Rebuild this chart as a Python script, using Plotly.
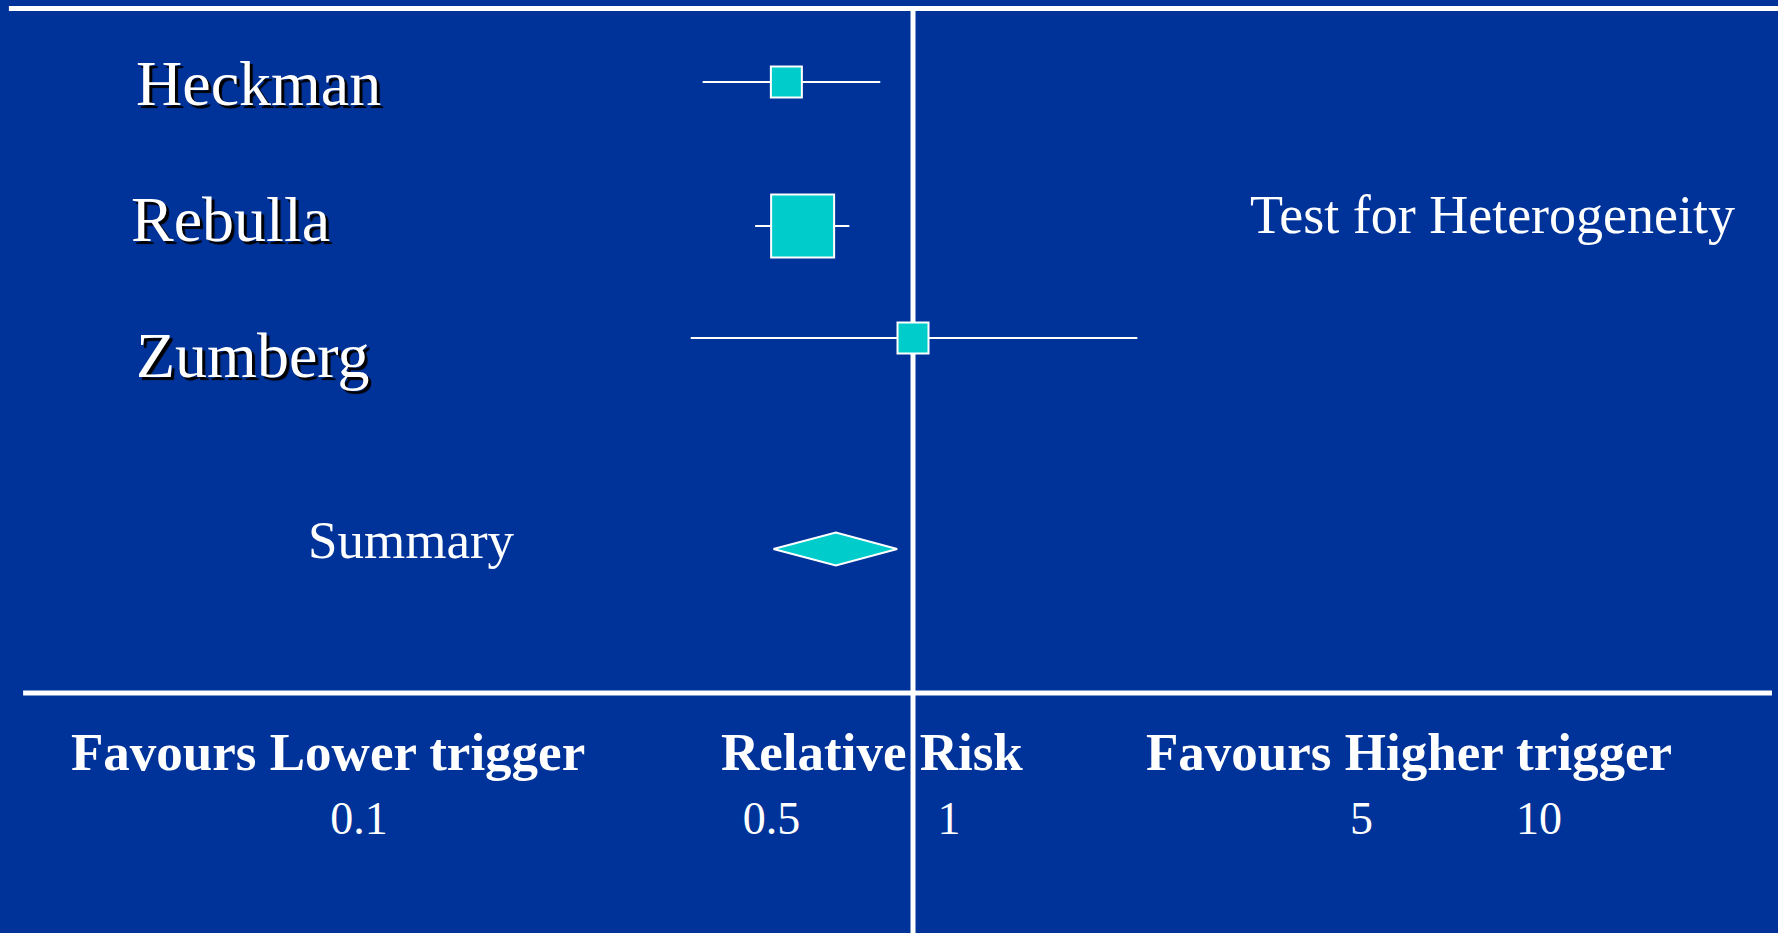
import plotly.graph_objects as go

# forest plot data (relative risk with 95% CI)
studies = ["Heckman", "Rebulla", "Zumberg"]
rr = [0.61, 0.65, 1.00]
ci_low = [0.44, 0.54, 0.42]
ci_high = [0.88, 0.78, 2.40]

summary_label = "Summary"
summary_rr = 0.74
summary_low = 0.58
summary_high = 0.94

tick_values = [0.1, 0.5, 1, 5, 10]
tick_labels = ["0.1", "0.5", "1", "5", "10"]

BG = "#003399"
CYAN = "#00CCCC"
FONT = "Liberation Serif, Times New Roman, serif"

# row layout (y axis runs top -> bottom)
row_pos = [0.82, 2.26, 3.38]
label_pos = [0.83, 2.19, 3.55]
label_x = [0.0755, 0.0725, 0.0755]
summary_pos = 5.49
diamond_half = 0.165

fig = go.Figure()

fig.add_trace(go.Scatter(
    x=rr,
    y=row_pos,
    mode="markers",
    marker=dict(symbol="square", size=[31, 63, 31], color=CYAN, opacity=1,
                line=dict(color="white", width=2)),
    error_x=dict(type="data", symmetric=False,
                 array=[h - e for h, e in zip(ci_high, rr)],
                 arrayminus=[e - l for e, l in zip(rr, ci_low)],
                 color="white", thickness=2, width=0),
    showlegend=False,
    hoverinfo="skip",
))

fig.add_trace(go.Scatter(
    x=[summary_low, summary_rr, summary_high, summary_rr, summary_low],
    y=[summary_pos, summary_pos - diamond_half, summary_pos,
       summary_pos + diamond_half, summary_pos],
    mode="lines",
    fill="toself",
    fillcolor=CYAN,
    line=dict(color="white", width=2),
    showlegend=False,
    hoverinfo="skip",
))

# no-effect line and frame lines
fig.add_shape(type="line", xref="x", yref="paper", x0=1, x1=1, y0=0, y1=0.991,
              line=dict(color="white", width=5), layer="below")
fig.add_shape(type="line", xref="paper", yref="paper", x0=0.005, x1=1, y0=0.991, y1=0.991,
              line=dict(color="white", width=5), layer="below")
fig.add_shape(type="line", xref="paper", yref="paper", x0=0.013, x1=0.9966, y0=0.2572, y1=0.2572,
              line=dict(color="white", width=5), layer="below")

for name, xp, yp in zip(studies, label_x, label_pos):
    fig.add_annotation(
        text=name, xref="paper", yref="y", x=xp, y=yp,
        xanchor="left", yanchor="middle", showarrow=False,
        font=dict(family=FONT, size=64, color="white", shadow="3px 3px 1px black"),
    )

fig.add_annotation(text=summary_label, xref="paper", yref="y", x=0.2312, y=5.40,
                   xanchor="center", yanchor="middle", showarrow=False,
                   font=dict(family=FONT, size=53, color="white"))
fig.add_annotation(text="Test for Heterogeneity", xref="paper", yref="paper", x=0.8397, y=0.7696,
                   xanchor="center", yanchor="middle", showarrow=False,
                   font=dict(family=FONT, size=54, color="white"))

for txt, xp in [("Favours Lower trigger", 0.1845), ("Relative Risk", 0.4905),
                ("Favours Higher trigger", 0.7925)]:
    fig.add_annotation(text="<b>" + txt + "</b>", xref="paper", yref="paper", x=xp, y=0.194,
                       xanchor="center", yanchor="middle", showarrow=False,
                       font=dict(family=FONT, size=53, color="white"))

fig.update_layout(
    width=1778,
    height=933,
    margin=dict(l=0, r=0, t=0, b=0),
    paper_bgcolor=BG,
    plot_bgcolor=BG,
    xaxis=dict(
        type="log",
        range=[-1.5475, 1.4661],
        tickvals=tick_values,
        ticktext=tick_labels,
        tickfont=dict(family=FONT, size=46, color="white"),
        ticklabelshift=36,
        ticks="",
        showgrid=False,
        zeroline=False,
        showline=False,
        anchor="free",
        position=0.1566,
        domain=[0, 1],
    ),
    yaxis=dict(range=[9.33, 0], visible=False, domain=[0, 1]),
)

fig.write_html("out.html", config={"displayModeBar": False},
               post_script="document.body.style.margin='0';")
